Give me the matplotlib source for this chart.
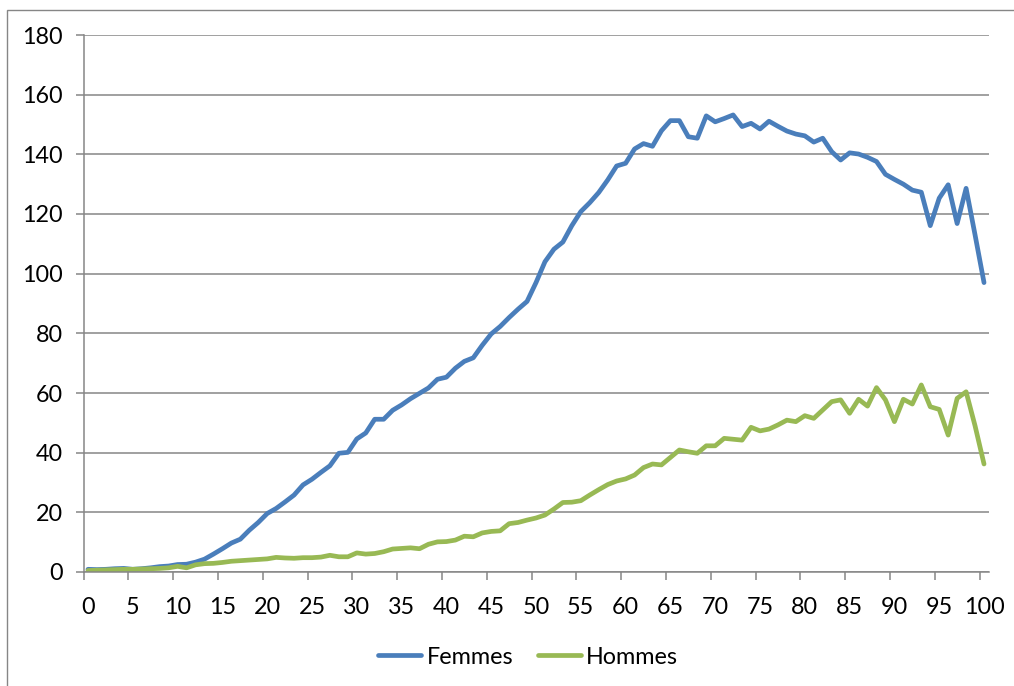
import numpy as np
import matplotlib
matplotlib.use("Agg")
import matplotlib.pyplot as plt
from matplotlib.patches import Rectangle

plt.rcParams['font.family'] = ['Lato', 'DejaVu Sans']

# Âge (0 à 100 ans)
ages = list(range(0, 101))

femmes = [
    0.9, 0.8, 0.9, 1.1, 1.2, 0.9, 1.1, 1.4, 1.8, 2.0,
    2.5, 2.6, 3.3, 4.3, 6.0, 7.8, 9.7, 11.0, 14.0, 16.6,
    19.6, 21.3, 23.5, 25.8, 29.2, 31.1, 33.4, 35.6, 39.8, 40.1,
    44.6, 46.6, 51.2, 51.2, 54.2, 56.0, 58.1, 59.9, 61.7, 64.6,
    65.3, 68.3, 70.6, 71.8, 76.0, 79.8, 82.3, 85.3, 88.1, 90.7,
    97.0, 104.0, 108.2, 110.6, 116.1, 120.8, 123.8, 127.2, 131.4, 136.1,
    137.0, 141.8, 143.6, 142.7, 147.9, 151.3, 151.3, 145.9, 145.4, 152.9,
    150.9, 152.0, 153.2, 149.3, 150.4, 148.5, 151.1, 149.4, 147.8, 146.8,
    146.2, 144.1, 145.4, 140.9, 138.1, 140.5, 140.1, 139.0, 137.6, 133.3,
    131.6, 130.0, 128.0, 127.3, 116.1, 125.3, 129.8, 116.8, 128.6, 113.0,
    97.0,
]

hommes = [
    0.5, 0.6, 0.7, 0.8, 0.9, 0.9, 1.0, 1.1, 1.2, 1.4,
    1.9, 1.4, 2.4, 2.8, 2.9, 3.2, 3.6, 3.8, 4.0, 4.2,
    4.4, 4.9, 4.7, 4.6, 4.8, 4.8, 5.0, 5.6, 5.1, 5.1,
    6.4, 6.0, 6.2, 6.8, 7.7, 7.9, 8.1, 7.8, 9.3, 10.1,
    10.2, 10.7, 12.0, 11.8, 13.1, 13.6, 13.8, 16.2, 16.6, 17.4,
    18.1, 19.1, 21.1, 23.3, 23.4, 23.9, 25.8, 27.6, 29.3, 30.5,
    31.2, 32.5, 35.0, 36.2, 35.9, 38.4, 40.9, 40.3, 39.8, 42.3,
    42.3, 44.8, 44.5, 44.2, 48.5, 47.3, 47.9, 49.3, 50.9, 50.4,
    52.4, 51.5, 54.3, 57.1, 57.7, 53.2, 57.9, 55.6, 61.8, 57.7,
    50.4, 57.9, 56.3, 62.7, 55.4, 54.5, 45.9, 58.2, 60.4, 49.0,
    36.2,
]

x_labels = list(range(0, 101, 5))
y_ticks = list(range(0, 181, 20))

W, H = 1014, 686
fig = plt.figure(figsize=(W / 100, H / 100), dpi=100)
ax = fig.add_axes([83.5 / W, 114 / H, 905 / W, 537 / H])

gris = '#868686'
taille = 16.8

# cadre du graphique
fig.patches.append(Rectangle((7 / W, -0.1), 1.2, (H - 9.5) / H + 0.1,
                             transform=fig.transFigure, fill=False,
                             edgecolor=gris, linewidth=1.0))

ax.plot(ages, femmes, color='#4A7EBB', linewidth=3.4, label='Femmes',
        solid_joinstyle='round', solid_capstyle='round')
ax.plot(ages, hommes, color='#98B954', linewidth=3.4, label='Hommes',
        solid_joinstyle='round', solid_capstyle='round')

ax.set_xlim(-0.5, 100.5)
ax.set_ylim(0, 180)

ax.set_yticks(y_ticks)
ax.yaxis.grid(True, color=gris, linewidth=1.1)
ax.set_axisbelow(True)
ax.tick_params(axis='y', length=6, color=gris, width=1.1, pad=9, labelsize=taille)

ax.set_xticks(x_labels)
ax.set_xticks([v - 0.5 for v in range(0, 101, 5)], minor=True)
ax.tick_params(axis='x', which='major', length=0, pad=18, labelsize=taille)
ax.tick_params(axis='x', which='minor', length=6, color=gris, width=1.1)

for s in ['top', 'right']:
    ax.spines[s].set_visible(False)
for s in ['left', 'bottom']:
    ax.spines[s].set_color(gris)
    ax.spines[s].set_linewidth(1.1)

fig.legend(loc='center', bbox_to_anchor=(528 / W, 1 - 657 / H), ncol=2,
           frameon=False, fontsize=taille, handlelength=1.85, handletextpad=0.22,
           columnspacing=1.05)

fig.savefig('out.png', dpi=100)
